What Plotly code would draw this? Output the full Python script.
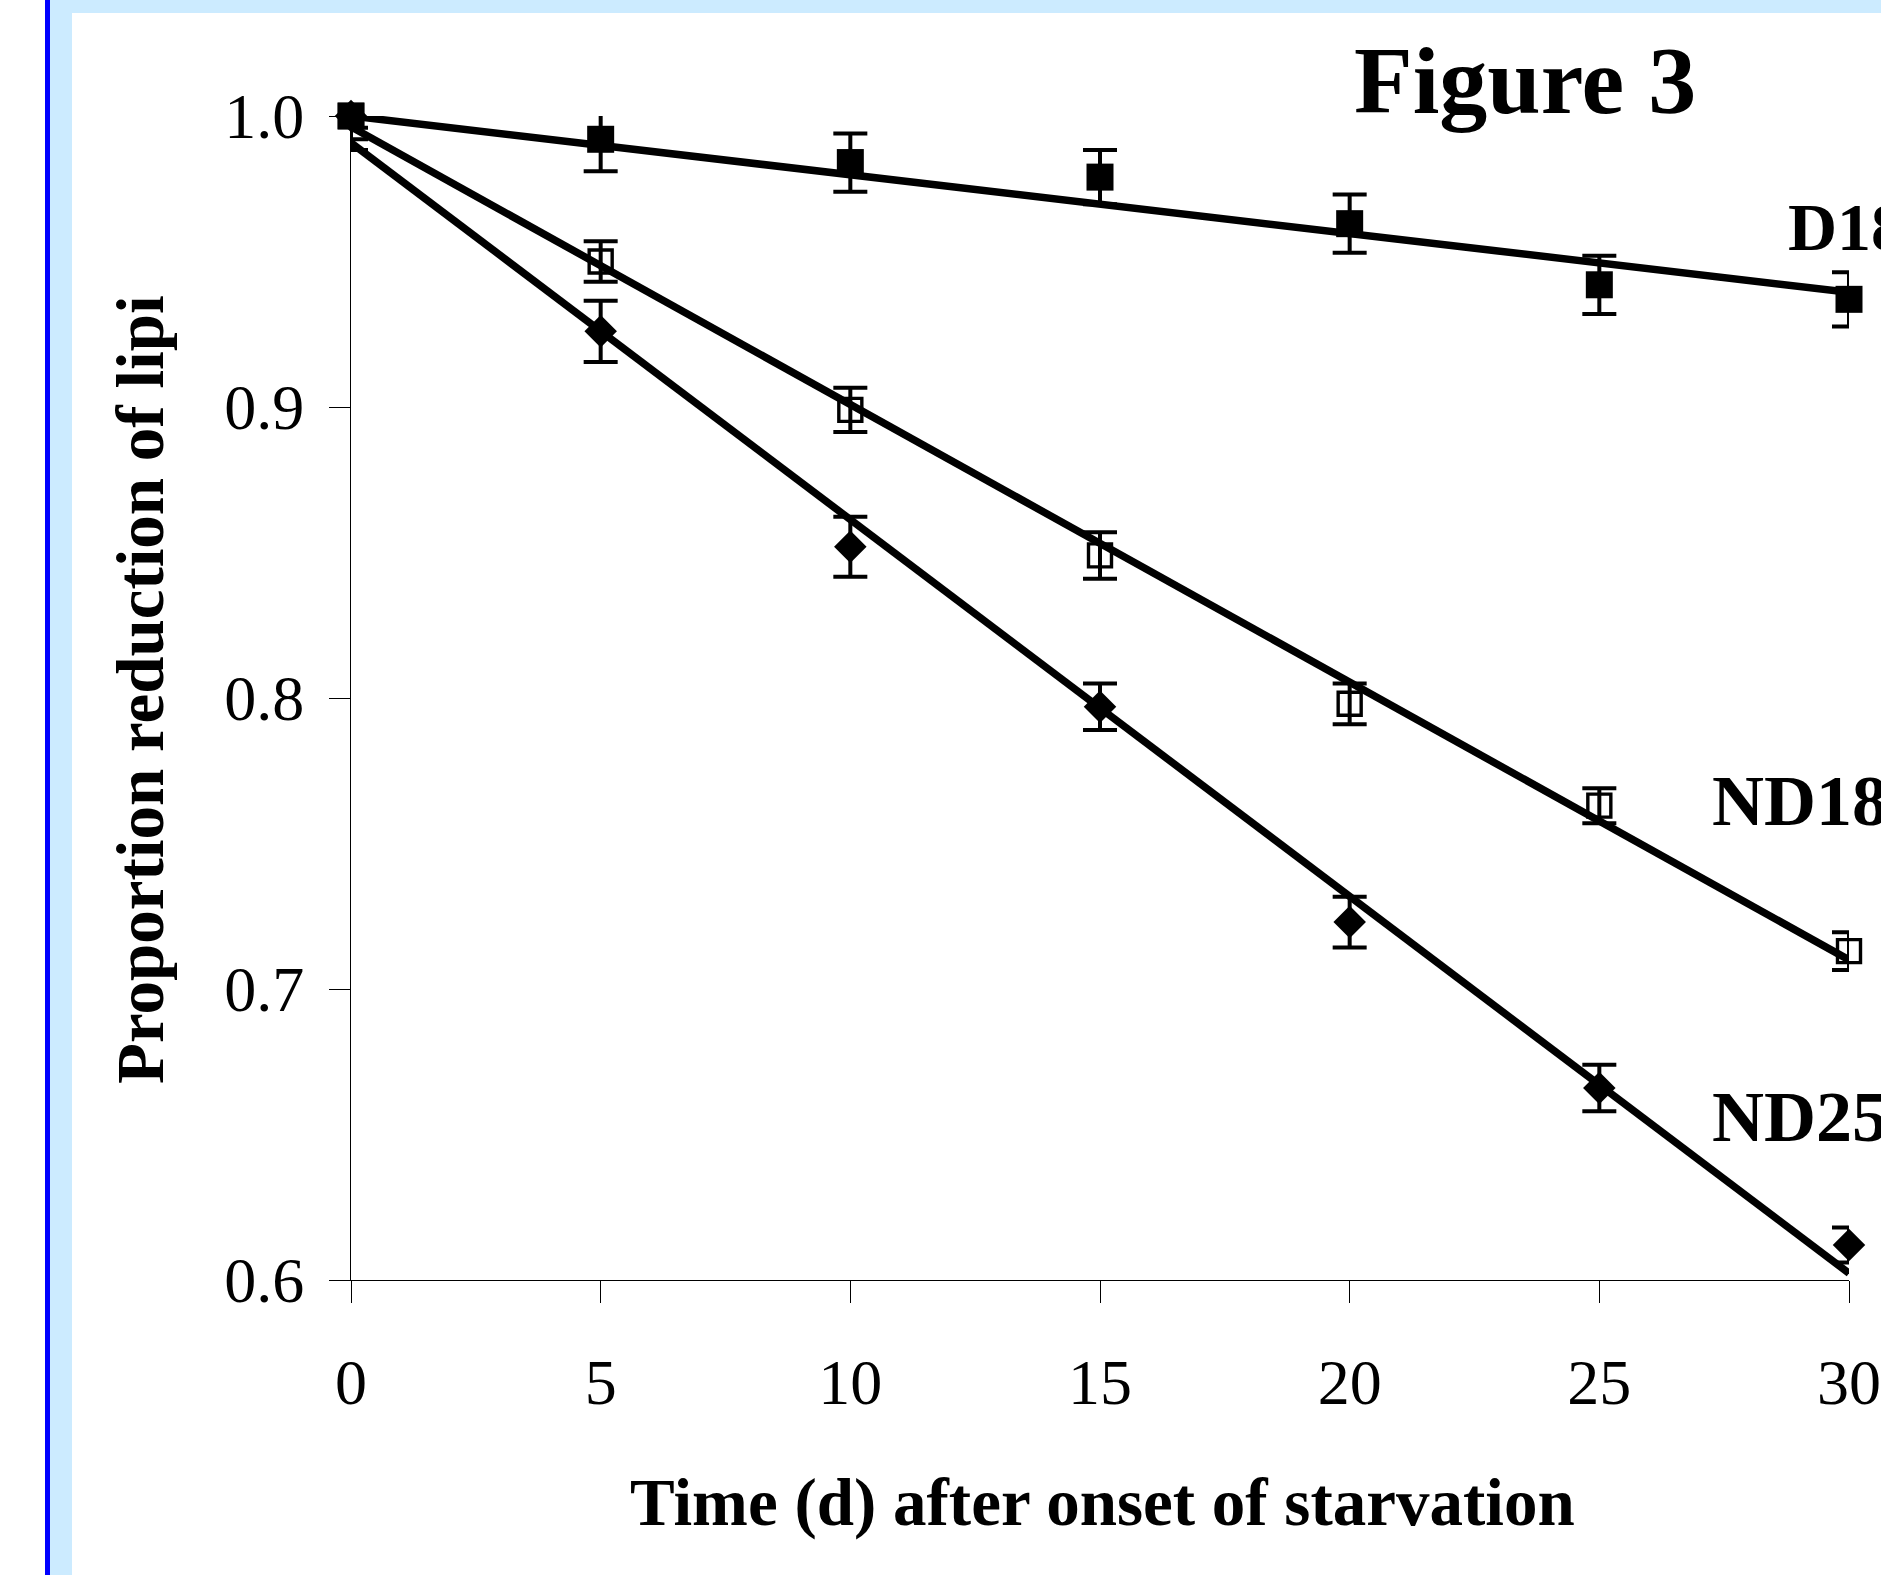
import numpy as np
import plotly.graph_objects as go

# ---------------- data ----------------
days = [0, 5, 10, 15, 20, 25, 30]
d18 = [1.000, 0.992, 0.984, 0.979, 0.963, 0.942, 0.937]
d18_err = [0.004, 0.011, 0.010, 0.0093, 0.010, 0.010, 0.0093]
nd18 = [1.000, 0.950, 0.899, 0.849, 0.798, 0.763, 0.713]
nd18_err_plus = [0.0, 0.007, 0.0076, 0.008, 0.007, 0.006, 0.0065]
nd18_err_minus = [0.008, 0.007, 0.0076, 0.008, 0.007, 0.006, 0.0065]
nd25 = [1.000, 0.926, 0.852, 0.797, 0.723, 0.666, 0.612]
nd25_err_plus = [0.0, 0.0105, 0.0103, 0.008, 0.0087, 0.008, 0.006]
nd25_err_minus = [0.0117, 0.0105, 0.0103, 0.008, 0.0087, 0.008, 0.006]
series_labels = ["D18", "ND18", "ND25"]
# trend line for D18 anchored at its day-0 value, the others free linear fits
trend_fixed_intercept = [True, False, False]
x_ticks = [0, 5, 10, 15, 20, 25, 30]
y_ticks = [0.6, 0.7, 0.8, 0.9, 1.0]
y_ticktext = ["0.6", "0.7", "0.8", "0.9", "1.0"]

W, H = 1881, 1575
L, R, T, B = 351, 32, 116, 295
PW, PH = W - L - R, H - T - B


def px(xp):
    return (xp - L) / PW


def py(yp):
    return (H - B - yp) / PH


FONT = "Liberation Serif"
fig = go.Figure()


def err(plus, minus=None):
    d = dict(type="data", array=plus, color="black", thickness=4, width=17, visible=True)
    if minus is not None:
        d["symmetric"] = False
        d["arrayminus"] = minus
    return d


def trend(ys, fixed):
    x = np.array(days, dtype=float)
    y = np.array(ys, dtype=float)
    if fixed:
        b = y[0]
        k = np.sum((x - x[0]) * (y - b)) / np.sum((x - x[0]) ** 2)
        b = b - k * x[0]
    else:
        k, b = np.polyfit(x, y, 1)
    xs = np.array([days[0], days[-1]], dtype=float)
    return xs, k * xs + b


fig.add_trace(go.Scatter(x=days, y=nd25, mode="markers", cliponaxis=False,
                         marker=dict(symbol="diamond", size=25, color="black", line=dict(width=0)),
                         error_y=err(nd25_err_plus, nd25_err_minus), showlegend=False))
fig.add_trace(go.Scatter(x=days, y=nd18, mode="markers", cliponaxis=False,
                         marker=dict(symbol="square-open", size=23, color="black", line=dict(width=3.4)),
                         error_y=err(nd18_err_plus, nd18_err_minus), showlegend=False))

for ys, fixed in ((nd25, trend_fixed_intercept[2]), (nd18, trend_fixed_intercept[1]),
                  (d18, trend_fixed_intercept[0])):
    xs, yl = trend(ys, fixed)
    fig.add_trace(go.Scatter(x=xs, y=yl, mode="lines", cliponaxis=False,
                             line=dict(color="black", width=7.5), showlegend=False))

fig.add_trace(go.Scatter(x=days, y=d18, mode="markers", cliponaxis=False,
                         marker=dict(symbol="square", size=27, color="black", line=dict(width=0)),
                         error_y=err(d18_err), showlegend=False))

shapes = [
    dict(type="rect", xref="paper", yref="paper", x0=px(50), x1=px(72), y0=py(H), y1=py(0),
         fillcolor="#CCEBFF", line=dict(width=0), layer="below"),
    dict(type="rect", xref="paper", yref="paper", x0=px(50), x1=px(W + 5), y0=py(13), y1=py(0),
         fillcolor="#CCEBFF", line=dict(width=0), layer="below"),
    dict(type="rect", xref="paper", yref="paper", x0=px(45), x1=px(50), y0=py(H), y1=py(0),
         fillcolor="#0000FF", line=dict(width=0), layer="below"),
]

annotations = [
    dict(text="Figure 3", xref="paper", yref="paper", x=px(1352), y=py(80), xanchor="left",
         yanchor="middle", showarrow=False, font=dict(family=FONT, size=96, color="black", weight="bold")),
    dict(text="Time (d) after onset of starvation", xref="paper", yref="paper", x=px(1102), y=py(1502),
         xanchor="center", yanchor="middle", showarrow=False,
         font=dict(family=FONT, size=67, color="black", weight="bold")),
    dict(text="Proportion reduction of lipi", xref="paper", yref="paper", x=px(140), y=py(690),
         xanchor="center", yanchor="middle", textangle=-90, showarrow=False,
         font=dict(family=FONT, size=67, color="black", weight="bold")),
]
label_pos = [(1786, 227), (1710, 801), (1710, 1117)]
label_size = [68, 72, 72]
for lab, (lx, ly), fs in zip(series_labels, label_pos, label_size):
    annotations.append(dict(text=lab, xref="paper", yref="paper", x=px(lx), y=py(ly), xanchor="left",
                            yanchor="middle", showarrow=False,
                            font=dict(family=FONT, size=fs, color="black", weight="bold")))

fig.update_layout(
    width=W, height=H, margin=dict(l=L, r=R, t=T, b=B, autoexpand=False),
    paper_bgcolor="white", plot_bgcolor="white",
    shapes=shapes, annotations=annotations, showlegend=False,
    xaxis=dict(range=[0, 30], tickmode="array", tickvals=x_ticks, ticktext=[str(v) for v in x_ticks],
               ticks="outside", ticklen=22, tickwidth=1, tickcolor="black",
               showline=True, linecolor="black", linewidth=1, showgrid=False, zeroline=False,
               tickfont=dict(family=FONT, size=64, color="black"), ticklabelstandoff=24,
               automargin=False, fixedrange=True),
    yaxis=dict(range=[0.6, 1.0], tickmode="array", tickvals=y_ticks, ticktext=y_ticktext,
               ticks="outside", ticklen=21, tickwidth=1, tickcolor="black",
               showline=True, linecolor="black", linewidth=1, showgrid=False, zeroline=False,
               tickfont=dict(family=FONT, size=64, color="black"), ticklabelstandoff=12,
               automargin=False, fixedrange=True),
)

fig.write_html("out.html", config={"displayModeBar": False})
